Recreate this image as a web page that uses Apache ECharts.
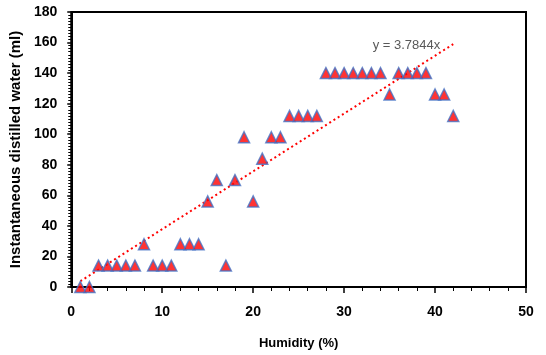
<!DOCTYPE html>
<html><head><meta charset="utf-8">
<script src="https://cdn.jsdelivr.net/npm/echarts@6/dist/echarts.min.js"></script>
<style>html,body{margin:0;padding:0;background:#fff}#c{width:546px;height:355px}</style>
</head><body><div id="c"></div>
<script>
const humidity = [1,2,3,4,5,6,7,8,9,10,11,12,13,14,15,16,17,18,19,20,21,22,23,24,25,26,27,28,29,30,31,32,33,34,35,36,37,38,39,40,41,42];
const water = [0,0,14,14,14,14,14,28,14,14,14,28,28,28,56,70,14,70,98,56,84,98,98,112,112,112,112,140,140,140,140,140,140,140,126,140,140,140,140,126,126,112];
const trendSlope = 3.7844;
const trendRange = [1, 42];
const trendLabel = 'y = 3.7844x';
const xTicks = [0,10,20,30,40,50];
const yTicks = [0,20,40,60,80,100,120,140,160,180];

const pts = humidity.map((h,i)=>[h, water[i]]);
const trend = trendRange.map(x=>[x, trendSlope*x]);
const font = "'Liberation Sans', Arial, sans-serif";

const chart = echarts.init(document.getElementById('c'));
chart.setOption({
  animation:false,
  grid:{left:71,right:20,top:12,bottom:65,show:true,borderColor:'#000',borderWidth:2,backgroundColor:'transparent'},
  xAxis:{type:'value',min:xTicks[0],max:xTicks[xTicks.length-1],interval:10,
    name:'Humidity (%)',nameLocation:'middle',nameGap:50,
    nameTextStyle:{fontFamily:font,fontWeight:'bold',fontSize:13,color:'#000'},
    axisLine:{show:true,lineStyle:{color:'#000',width:2}},
    axisTick:{show:true,inside:false,length:6,lineStyle:{color:'#000',width:1.5}},
    minorTick:{show:true,splitNumber:5,length:4,lineStyle:{color:'#000',width:1}},
    axisLabel:{fontFamily:font,fontWeight:'bold',fontSize:14,color:'#000',margin:18},
    splitLine:{show:false}},
  yAxis:{type:'value',min:yTicks[0],max:yTicks[yTicks.length-1],interval:20,
    name:'Instantaneous distilled water (ml)',nameLocation:'middle',nameGap:45,
    nameTextStyle:{fontFamily:font,fontWeight:'bold',fontSize:15,color:'#000'},
    axisLine:{show:true,lineStyle:{color:'#000',width:2}},
    axisTick:{show:true,inside:false,length:4,lineStyle:{color:'#000',width:1.5}},
    minorTick:{show:true,splitNumber:10,length:3,lineStyle:{color:'#000',width:1}},
    axisLabel:{fontFamily:font,fontWeight:'bold',fontSize:14,color:'#000',margin:14},
    splitLine:{show:false}},
  series:[
    {type:'line',data:trend,symbol:'none',z:1,
      lineStyle:{color:'#ff0000',width:2,type:[2,3]},
      endLabel:{show:true,formatter:trendLabel,color:'#595959',fontFamily:font,fontSize:13,
        align:'right',verticalAlign:'middle',offset:[-21,1]}},
    {type:'scatter',data:pts,symbol:'triangle',symbolSize:[11,11],z:3,
      itemStyle:{color:'#ff0000',borderColor:'#4472C4',borderWidth:1.5}}
  ]
});
</script></body></html>
